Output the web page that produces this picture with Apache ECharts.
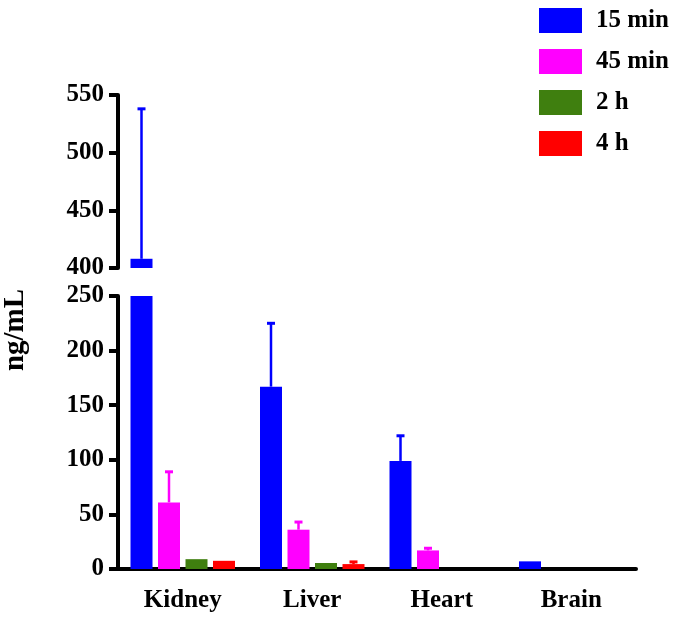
<!DOCTYPE html>
<html>
<head>
<meta charset="utf-8">
<script src="https://cdn.jsdelivr.net/npm/echarts@6/dist/echarts.min.js"></script>
<style>html,body{margin:0;padding:0;background:#fff}#c{width:675px;height:618px}</style>
</head>
<body>
<div id="c"></div>
<script>
const categories = ['Kidney', 'Liver', 'Heart', 'Brain'];
const seriesNames = ['15 min', '45 min', '2 h', '4 h'];
const min15 = [408, 167, 99, 7];
const min45 = [61, 36, 17, 0];
const h2 = [9, 5.5, 0, 0];
const h4 = [7.5, 4.5, 0, 0];
const min15Err = [130, 58, 23, 0];
const min45Err = [28, 7, 2, 0];
const h2Err = [0, 0, 0, 0];
const h4Err = [0, 2, 0, 0];
const lowerTicks = [0, 250, 50];
const upperTicks = [400, 550, 50];

const values = [min15, min45, h2, h4];
const errs = [min15Err, min45Err, h2Err, h4Err];
const colors = ['#0000ff', '#ff00ff', '#3f7f0f', '#ff0000'];
const FONT = '"Liberation Serif", "Times New Roman", serif';
const BAR_W = 22, GAP = 5.5;
const total = 4 * BAR_W + 3 * GAP;
const offsets = [0, 1, 2, 3].map(i => -total / 2 + i * (BAR_W + GAP) + BAR_W / 2);

const chart = echarts.init(document.getElementById('c'), null, {renderer: 'canvas'});

function errRender(si) {
  return function (params, api) {
    const cat = api.value(0), v = api.value(1), top = api.value(2);
    if (!(top > v)) return;
    const cs = params.coordSys;
    const p0 = api.coord([cat, v]);
    const p1 = api.coord([cat, top]);
    const x = p0[0] + offsets[si];
    let y0 = Math.min(p0[1], cs.y + cs.height);
    let y1 = Math.max(p1[1], cs.y);
    if (y1 >= y0) return;
    const children = [{
      type: 'line', shape: {x1: x, y1: y0, x2: x, y2: y1},
      style: {stroke: colors[si], lineWidth: 2.5}
    }];
    if (p1[1] >= cs.y) {
      children.push({
        type: 'line', shape: {x1: x - 4, y1: p1[1], x2: x + 4, y2: p1[1]},
        style: {stroke: colors[si], lineWidth: 3}
      });
    }
    return {type: 'group', children: children};
  };
}

const series = [];
[0, 1].forEach(g => {
  values.forEach((vals, si) => {
    series.push({
      name: seriesNames[si], type: 'bar', xAxisIndex: g, yAxisIndex: g,
      data: vals, barWidth: BAR_W, barGap: (GAP / BAR_W * 100) + '%',
      itemStyle: {color: colors[si]}, clip: true, silent: true
    });
  });
  values.forEach((vals, si) => {
    series.push({
      type: 'custom', xAxisIndex: g, yAxisIndex: g, silent: true,
      renderItem: errRender(si),
      data: vals.map((v, i) => [i, v, v + errs[si][i]]),
      z: 3
    });
  });
});

const axisLineStyle = {color: '#000', width: 4};
const labelStyle = {color: '#000', fontFamily: FONT, fontWeight: 'bold', fontSize: 25};

chart.setOption({
  animation: false,
  backgroundColor: '#fff',
  legend: {
    data: seriesNames, orient: 'vertical', left: 534, top: 3,
    itemWidth: 43, itemHeight: 25, itemGap: 16, icon: 'rect',
    textStyle: {color: '#000', fontFamily: FONT, fontWeight: 'bold', fontSize: 25, padding: [0, 0, 0, 9]}
  },
  graphic: [{
    type: 'text', x: 16, y: 330, rotation: Math.PI / 2,
    style: {text: 'ng/mL', textAlign: 'center', textVerticalAlign: 'middle',
      font: 'bold 29px ' + FONT, fill: '#000'}
  }],
  grid: [
    {left: 118, top: 296, width: 518, height: 273},
    {left: 118, top: 95, width: 518, height: 173}
  ],
  xAxis: [
    {type: 'category', gridIndex: 0, data: categories,
      axisLine: {lineStyle: axisLineStyle},
      axisTick: {alignWithLabel: true, length: 9, lineStyle: {width: 4, color: '#000'}},
      axisLabel: Object.assign({margin: 19}, labelStyle)},
    {type: 'category', gridIndex: 1, data: categories, show: false}
  ],
  yAxis: [
    {type: 'value', gridIndex: 0, min: lowerTicks[0], max: lowerTicks[1], interval: lowerTicks[2],
      axisLine: {show: true, lineStyle: axisLineStyle},
      axisTick: {show: true, length: 9, lineStyle: {width: 4, color: '#000'}},
      splitLine: {show: false},
      axisLabel: Object.assign({margin: 14}, labelStyle)},
    {type: 'value', gridIndex: 1, min: upperTicks[0], max: upperTicks[1], interval: upperTicks[2],
      axisLine: {show: true, lineStyle: axisLineStyle},
      axisTick: {show: true, length: 9, lineStyle: {width: 4, color: '#000'}},
      splitLine: {show: false},
      axisLabel: Object.assign({margin: 14}, labelStyle)}
  ],
  series: series
});
</script>
</body>
</html>
